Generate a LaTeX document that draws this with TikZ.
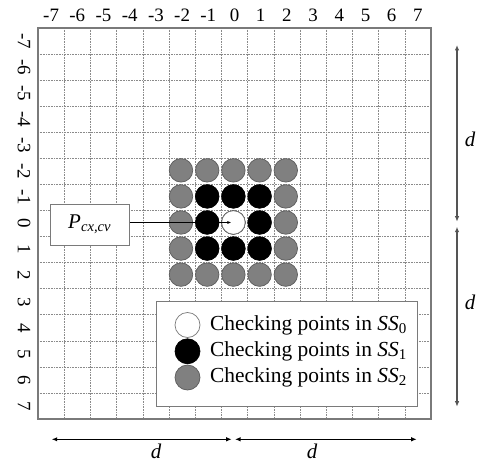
\documentclass[tikz,border=0pt]{standalone}
\usepackage{fontspec}
\setmainfont{Liberation Serif}
\usetikzlibrary{arrows.meta}
\definecolor{gridc}{HTML}{8A8A8A}
\definecolor{framec}{HTML}{7A7A7A}
\definecolor{dotgray}{HTML}{808080}
\definecolor{dotedge}{HTML}{5C5C5C}
\definecolor{dimc}{HTML}{555555}
\tikzset{
  gridline/.style={gridc, line width=0.6bp, dash pattern=on 0.8bp off 0.8bp},
  frameline/.style={framec, line width=1.3bp},
  lab/.style={inner sep=0pt, font=\fontsize{19}{21}\selectfont},
  dlab/.style={inner sep=0pt, font=\fontsize{21}{24}\selectfont\itshape},
  ptdot/.style={circle, inner sep=0pt, minimum size=23.5bp, line width=0.7bp},
  graydot/.style={ptdot, fill=dotgray, draw=dotedge},
  blackdot/.style={ptdot, fill=black, draw=black},
  whitedot/.style={ptdot, fill=white, draw=framec},
  legdot/.style={circle, inner sep=0pt, minimum size=25bp, line width=0.7bp},
  boxed/.style={draw=framec, fill=white, line width=1bp, inner sep=0pt},
  legtext/.style={inner sep=0pt, anchor=west, font=\fontsize{21.5}{24}\selectfont},
  dimarrow/.style={dimc, line width=1.2bp, {Latex[length=5.5bp,width=4.5bp]}-{Latex[length=5.5bp,width=4.5bp]}},
  ptr/.style={black, line width=0.9bp, -{Latex[length=4bp,width=3bp]}}
}
\begin{document}
\begin{tikzpicture}[x=1bp,y=-1bp]
\useasboundingbox (0,0) rectangle (482,463);
\fill[white] (0,0) rectangle (482,463);
% grid
\foreach \k in {1,...,14} {
  \draw[gridline] ({38+\k*26.2},28) -- ({38+\k*26.2},419);
  \draw[gridline] (38,{28+\k*26.07}) -- (431,{28+\k*26.07});
}
\draw[frameline] (38,28) rectangle (431,419);
% axis labels
\foreach \n [count=\k from 0] in {-7,-6,-5,-4,-3,-2,-1,0,1,2,3,4,5,6,7} {
  \node[lab] (cx\k) at ({38+(\k+0.5)*26.2},15) {\n};
  \node[lab, rotate=-90] (ry\k) at (24,{28+(\k+0.5)*26.07}) {\n};
}
% checking points
\foreach \i in {-2,...,2} {
  \foreach \j in {-2,...,2} {
    \node[graydot] (g\i\j) at ({38+(\i+7)*26.2+12},{28+(\j+7)*26.07+12}) {};
  }
}
\foreach \i in {-1,...,1} {
  \foreach \j in {-1,...,1} {
    \node[blackdot] (b\i\j) at ({38+(\i+7)*26.2+12},{28+(\j+7)*26.07+12}) {};
  }
}
\node[whitedot] (w) at ({38+7*26.2+12},{28+7*26.07+12}) {};
% P box
\node[boxed, minimum width=79.3bp, minimum height=40.7bp] (p) at (89.7,224.7)
  {\fontsize{21}{23}\selectfont\textit{P}\textsubscript{\textit{cx,cv}}};
\draw[ptr] (p.east |- w.center) -- ([xshift=-2bp]w.center);
% legend
\node[boxed, minimum width=261.7bp, minimum height=104.3bp] (leg) at (286.85,353.85) {};
\node[legdot, fill=white, draw=framec] (l0) at (187.5,325) {};
\node[legdot, fill=black, draw=black] (l1) at (187.5,351.3) {};
\node[legdot, fill=dotgray, draw=dotedge] (l2) at (187.5,377.5) {};
\node[legtext] (t0) at (210,325) {Checking points in \textit{SS}\textsubscript{0}};
\node[legtext] (t1) at (210,351.3) {Checking points in \textit{SS}\textsubscript{1}};
\node[legtext] (t2) at (210,377.5) {Checking points in \textit{SS}\textsubscript{2}};
% dimension arrows
\coordinate (r1) at (457,45);
\coordinate (r2) at (457,221.7);
\coordinate (r3) at (457,226.7);
\coordinate (r4) at (457,406.7);
\draw[dimarrow] (r1) -- (r2);
\draw[dimarrow] (r3) -- (r4);
\coordinate (b1) at (51.7,439.3);
\coordinate (b2) at (231.7,439.3);
\coordinate (b3) at (235,439.3);
\coordinate (b4) at (416.7,439.3);
\draw[dimarrow, draw=black, fill=black] (b1) -- (b2);
\draw[dimarrow, draw=black, fill=black] (b3) -- (b4);
\node[dlab] (d1) at (470,139) {d};
\node[dlab] (d2) at (470,302) {d};
\node[dlab, anchor=south] (d3) at (156,458.5) {d};
\node[dlab, anchor=south] (d4) at (312,458.5) {d};
\end{tikzpicture}
\end{document}
